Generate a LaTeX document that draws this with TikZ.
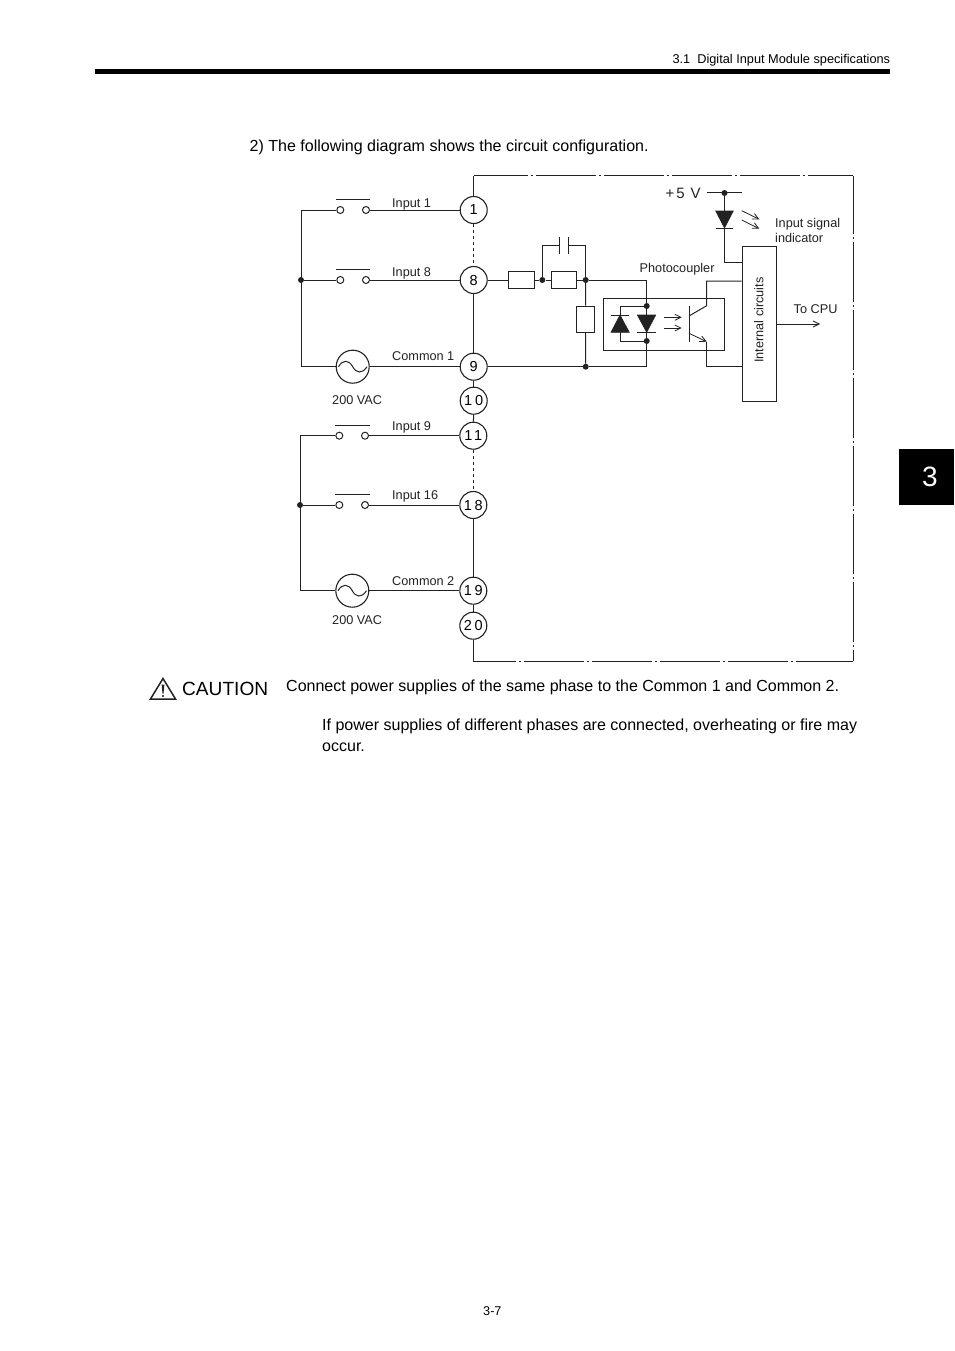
\documentclass[tikz,border=0pt]{standalone}
\usepackage{fontspec}
\setmainfont{Liberation Sans}
\newfontfamily\termfont[LetterSpace=20]{Liberation Sans}
\usetikzlibrary{arrows.meta}
\definecolor{ink}{HTML}{222222}
\tikzset{
  wire/.style={draw=ink,line width=1pt},
  dashwire/.style={wire,dash pattern=on 3pt off 3pt},
  frameline/.style={draw=ink,line width=1pt,dash pattern=on 60pt off 3pt on 2pt off 3pt},
  term/.style={circle,draw=ink,line width=1.1pt,minimum size=27pt,inner sep=0pt,text depth=0pt,font=\termfont\fontsize{14.5}{14.5}\selectfont},
  contact/.style={circle,draw=ink,line width=1pt,minimum size=7pt,inner sep=0pt},
  acsrc/.style={circle,draw=ink,line width=1.1pt,minimum size=33pt,inner sep=0pt},
  resistor/.style={rectangle,draw=ink,line width=1pt,inner sep=0pt},
  jun/.style={circle,fill=ink,minimum size=6pt,inner sep=0pt},
  small/.style={inner sep=0pt,anchor=base west,text=ink,font=\fontsize{12.7}{12.7}\selectfont},
  body/.style={inner sep=0pt,anchor=base west,text=black,font=\fontsize{16.02}{16.02}\selectfont},
  openarrow/.style={-{Straight Barb[length=6pt,width=6pt]}},
  diode/.style={fill=ink,draw=ink,line width=0.6pt}
}
\begin{document}
\begin{tikzpicture}[x=1pt,y=-1pt]
\useasboundingbox (0,0) rectangle (954,1351);
\fill[white] (0,0) rectangle (954,1351);
% page furniture
\node[small,anchor=base east,text=black,font=\fontsize{12.75}{12.75}\selectfont] (hdr) at (890.3,63.5) {3.1\ \ Digital Input Module specifications};
\node[fill=black,minimum width=795pt,minimum height=5pt,inner sep=0pt,anchor=north west] (rule) at (95,69) {};
\node[fill=black,minimum width=55pt,minimum height=56pt,inner sep=0pt,anchor=north west] (tab) at (899,449) {};
\node[inner sep=0pt,text=white,font=\fontsize{28}{28}\selectfont] (tabn) at (930,477) {3};
\node[body] (intro) at (249.5,151.6) {2) The following diagram shows the circuit configuration.};
\node[small,text=black] (pg) at (483,1315.5) {3-7};
% terminals
\node[term] (t1) at (473.7,210) {1};
\node[term] (t8) at (473.7,280) {8};
\node[term] (t9) at (473.7,366.7) {9};
\node[term] (t10) at (473.7,400.7) {10};
\node[term] (t11) at (473.3,435.7) {11};
\node[term] (t18) at (473.3,505) {18};
\node[term] (t19) at (473.3,590.7) {19};
\node[term] (t20) at (473.3,625.7) {20};
\draw[dashwire] (t1) -- (t8);
\draw[dashwire] (t11) -- (t18);
\draw[wire] (t8) -- (t9);
\draw[wire] (t9) -- (t10);
\draw[wire] (t10) -- (t11);
\draw[wire] (t18) -- (t19);
\draw[wire] (t19) -- (t20);
% frame
\coordinate (ftl) at (t1.north |- 0,176);
\coordinate (ftr) at (853,176);
\coordinate (fbr) at (853,661);
\coordinate (fbl) at (t20.south |- 0,661);
\draw[wire] (t1) -- (ftl);
\draw[wire] (t20) -- (fbl);
\draw[frameline,dash phase=6pt] (ftl) -- (ftr);
\draw[frameline,dash phase=2pt] (ftr) -- (fbr);
\draw[frameline,dash phase=17pt] (fbl) -- (fbr);
% upper input group
\node[contact] (s1a) at (340.3,210) {};
\node[contact] (s1b) at (366,210) {};
\node[contact] (s8a) at (340.3,280) {};
\node[contact] (s8b) at (366,280) {};
\node[acsrc] (ac1) at (352.7,366.7) {};
\coordinate (b1t) at (301,210);
\coordinate (b1b) at (301,366.7);
\node[jun] (b1j) at (301,280) {};
\draw[wire] (s1a) -- (b1t) -- (b1b) -- (ac1);
\draw[wire] (b1j) -- (s8a);
\draw[wire] (s1b) -- (t1);
\draw[wire] (s8b) -- (t8);
\draw[wire] (ac1) -- (t9);
\coordinate (k1a) at (335.7,199.5); \coordinate (k1b) at (370.3,199.5);
\coordinate (k8a) at (335.7,269.5); \coordinate (k8b) at (370.3,269.5);
\draw[wire] (k1a) -- (k1b);
\draw[wire] (k8a) -- (k8b);
\draw[wire] (338.5,366.7) .. controls (343,359) and (349,360) .. (352.7,366.7) .. controls (356,373) and (362,374.5) .. (367,366.7);
% lower input group
\node[contact] (s9a) at (339.3,435.7) {};
\node[contact] (s9b) at (365,435.7) {};
\node[contact] (s16a) at (339.3,505) {};
\node[contact] (s16b) at (365,505) {};
\node[acsrc] (ac2) at (352.3,590.7) {};
\coordinate (b2t) at (300,435.7);
\coordinate (b2b) at (300,590.7);
\node[jun] (b2j) at (300,505) {};
\draw[wire] (s9a) -- (b2t) -- (b2b) -- (ac2);
\draw[wire] (b2j) -- (s16a);
\draw[wire] (s9b) -- (t11);
\draw[wire] (s16b) -- (t18);
\draw[wire] (ac2) -- (t19);
\coordinate (k9a) at (335,425.5); \coordinate (k9b) at (370,425.5);
\coordinate (k16a) at (335,494.7); \coordinate (k16b) at (370,494.7);
\draw[wire] (k9a) -- (k9b);
\draw[wire] (k16a) -- (k16b);
\draw[wire] (338,590.7) .. controls (342.5,583) and (348.5,584) .. (352.3,590.7) .. controls (355.5,597) and (361.5,598.5) .. (366.5,590.7);
% input network
\node[resistor,minimum width=25.7pt,minimum height=16.6pt] (r1) at (521.2,280) {};
\node[jun] (j1) at (542.3,280) {};
\node[resistor,minimum width=25pt,minimum height=16.6pt] (r2) at (564.2,280) {};
\node[jun] (j2) at (585.7,280) {};
\node[resistor,minimum width=17.6pt,minimum height=26.3pt] (r3) at (585.5,319.2) {};
\node[jun] (j3) at (585.7,366.7) {};
\node[jun] (j4) at (646.7,306) {};
\node[jun] (j5) at (646.7,341) {};
\coordinate (top1) at (646.7,280);
\coordinate (bot1) at (646.7,366.7);
\draw[wire] (t8) -- (r1);
\draw[wire] (r1) -- (j1) -- (r2) -- (j2) -- (top1) -- (j4) -- (j5) -- (bot1) -- (j3) -- (t9);
\draw[wire] (j2) -- (r3) -- (j3);
% capacitor
\coordinate (cl) at (559.3,245.7); \coordinate (cr) at (568.3,245.7);
\coordinate (cla) at (542.3,245.7); \coordinate (cra) at (585.7,245.7);
\draw[wire] (j1) -- (cla) -- (cl);
\draw[wire] (j2) -- (cra) -- (cr);
\draw[wire] (559.3,236.7) -- (559.3,254);
\draw[wire] (568.3,236.7) -- (568.3,254);
% photocoupler
\node[rectangle,draw=ink,line width=1pt,minimum width=120.7pt,minimum height=52.3pt,inner sep=0pt,anchor=north west] (pc) at (603.3,297.7) {};
\coordinate (lt) at (620,306); \coordinate (lb) at (620,341);
\draw[wire] (j4) -- (lt) -- (lb) -- (j5);
\draw[diode] (620,315) -- (611,332.3) -- (629.3,332.3) -- cycle;
\draw[wire] (611,315) -- (629.3,315);
\draw[diode] (646.7,332.3) -- (637.3,315) -- (655.7,315) -- cycle;
\draw[wire] (637.3,332.3) -- (655.7,332.3);
\coordinate (oa1) at (664,317.3); \coordinate (ob1) at (681.7,317.3);
\coordinate (oa2) at (664,328); \coordinate (ob2) at (681.7,328);
\draw[wire,line width=0.8pt,openarrow] (oa1) -- (ob1);
\draw[wire,line width=0.8pt,openarrow] (oa2) -- (ob2);
\draw[wire] (689,306) -- (689,341.7);
% internal circuits
\node[rectangle,draw=ink,line width=1pt,minimum width=34pt,minimum height=155pt,inner sep=0pt,anchor=north west] (ic) at (741.7,246) {};
\node[small,rotate=90,anchor=base,text=ink,font=\fontsize{12.7}{12.7}\selectfont] (ict) at (763.3,320) {Internal circuits};
\coordinate (ce) at (706.7,305.7);
\coordinate (em) at (706.7,341.7);
\coordinate (icc) at (741.7,281);
\coordinate (ice) at (741.7,366.7);
\draw[wire] (689,316) -- (ce) -- (706.7,281) -- (icc);
\draw[wire,line width=0.8pt,openarrow] (689,333.3) -- (em);
\draw[wire] (em) -- (706.7,366.7) -- (ice);
% +5 V and indicator
\node[small,anchor=base west,font=\fontsize{15}{15}\selectfont] (v5) at (665.5,198.5) {{\addfontfeature{LetterSpace=12}+5 V}};
\coordinate (v5l) at (707,193); \coordinate (v5r) at (742,193);
\node[jun] (j6) at (724.5,193) {};
\draw[wire] (v5l) -- (v5r);
\coordinate (icl) at (741.7,262);
\draw[wire] (j6) -- (724.5,262) -- (icl);
\draw[diode] (724.5,228) -- (715.7,211) -- (733.3,211) -- cycle;
\draw[wire] (715.7,228) -- (733.3,228);
\draw[wire,line width=0.8pt,openarrow] (741.7,210.7) -- (759.3,219.3);
\draw[wire,line width=0.8pt,openarrow] (741.7,220) -- (759.3,228.7);
\coordinate (cpu) at (820,324);
\draw[wire,line width=0.8pt,openarrow] (775.7,324) -- (cpu);
% labels
\node[small] (l1) at (392,207.3) {Input 1};
\node[small] (l8) at (392,276) {Input 8};
\node[small] (lc1) at (392,360) {Common 1};
\node[small] (lv1) at (332,404.5) {200 VAC};
\node[small] (l9) at (392,430) {Input 9};
\node[small] (l16) at (392,499.3) {Input 16};
\node[small] (lc2) at (392,585.3) {Common 2};
\node[small] (lv2) at (332,624) {200 VAC};
\node[small] (lpc) at (639.5,272.7) {Photocoupler};
\node[small] (lis) at (775,227.3) {Input signal};
\node[small] (lin) at (775,242.2) {indicator};
\node[small] (lcpu) at (793.5,313) {To CPU};
% caution
\coordinate (wa) at (163,678.5); \coordinate (wb) at (150.5,699); \coordinate (wc) at (175.5,699);
\draw[ink,line width=1.5pt,line join=miter] (wa) -- (wb) -- (wc) -- cycle;
\fill[ink] (161.6,684.5) -- (164.4,684.5) -- (163.5,693.5) -- (162.5,693.5) -- cycle;
\fill[ink] (163,696) circle (1.1pt);
\node[body,font=\fontsize{19.1}{19.1}\selectfont] (cau) at (182,695) {CAUTION};
\node[body] (c1) at (286,691) {Connect power supplies of the same phase to the Common 1 and Common 2.};
\node[body] (c2) at (322,730.5) {If power supplies of different phases are connected, overheating or fire may};
\node[body] (c3) at (322,751.5) {occur.};
\end{tikzpicture}
\end{document}
